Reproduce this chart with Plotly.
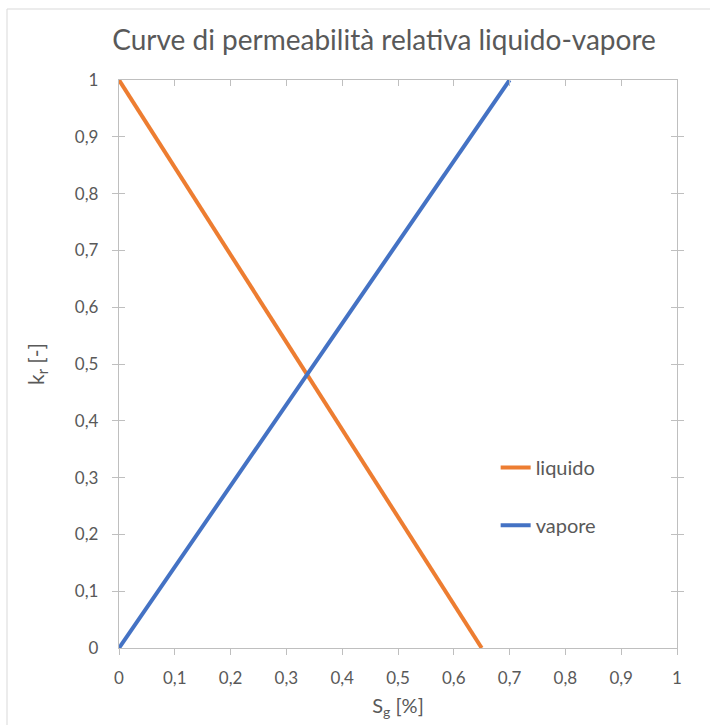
import plotly.graph_objects as go

# Relative permeability curves (linear), S_g vs k_r
sg_liquido = [0.0, 0.65]
kr_liquido = [1.0, 0.0]
sg_vapore = [0.0, 0.7]
kr_vapore = [0.0, 1.0]

tick_vals = [0, 0.1, 0.2, 0.3, 0.4, 0.5, 0.6, 0.7, 0.8, 0.9, 1]
tick_text = ["0", "0,1", "0,2", "0,3", "0,4", "0,5", "0,6", "0,7", "0,8", "0,9", "1"]

FONT = "Lato, 'Open Sans', sans-serif"
GRAY_TXT = "#595959"
AXIS_GRAY = "#BFBFBF"

fig = go.Figure()
fig.add_trace(go.Scatter(x=sg_liquido, y=kr_liquido, mode="lines", name="liquido",
                         line=dict(color="#ED7D31", width=4), legend="legend"))
fig.add_trace(go.Scatter(x=sg_vapore, y=kr_vapore, mode="lines", name="vapore",
                         line=dict(color="#4472C4", width=4), legend="legend2"))
# invisible trace to carry the top axis
fig.add_trace(go.Scatter(x=[0, 1], y=[0, 1], mode="lines", xaxis="x2", yaxis="y",
                         line=dict(width=0), showlegend=False, hoverinfo="skip"))

axis_common = dict(range=[0, 1], tickvals=tick_vals, ticktext=tick_text,
                   showgrid=False, zeroline=False, showline=True,
                   linecolor=AXIS_GRAY, linewidth=1.3, tickcolor=AXIS_GRAY,
                   ticklen=6, tickwidth=1.3,
                   tickfont=dict(family=FONT, size=17, color=GRAY_TXT))

fig.update_layout(
    width=710, height=725,
    margin=dict(l=119, r=33, t=80, b=77),
    paper_bgcolor="white", plot_bgcolor="white",
    font=dict(family=FONT, color=GRAY_TXT),
    title=dict(text="Curve di permeabilità relativa liquido-vapore",
               x=384 / 710, xanchor="center", y=1 - 40 / 725, yanchor="middle",
               font=dict(family=FONT, size=28, color=GRAY_TXT)),
    xaxis=dict(**axis_common, ticks="outside", mirror=True, ticklabelstandoff=8,
               title=dict(text="S<sub>g</sub> [%]", standoff=12,
                          font=dict(family=FONT, size=20, color=GRAY_TXT))),
    xaxis2=dict(range=[0, 1], overlaying="x", side="top", tickvals=tick_vals,
                showticklabels=False, ticks="inside", ticklen=6, tickwidth=1.3,
                tickcolor=AXIS_GRAY, showgrid=False, zeroline=False, showline=False),
    yaxis=dict(**axis_common, ticks="inside", mirror="allticks", ticklabelstandoff=16,
               title=dict(text="k<sub>r</sub> [-]", standoff=24,
                          font=dict(family=FONT, size=21, color=GRAY_TXT))),
    legend=dict(x=0.675, y=0.318, xanchor="left", yanchor="middle",
                bgcolor="rgba(0,0,0,0)", font=dict(family=FONT, size=20, color=GRAY_TXT)),
    legend2=dict(x=0.675, y=0.216, xanchor="left", yanchor="middle",
                 bgcolor="rgba(0,0,0,0)", font=dict(family=FONT, size=20, color=GRAY_TXT)),
    shapes=[dict(type="rect", xref="paper", yref="paper",
                 x0=(7 - 119) / 558, x1=1.2, y0=-0.3, y1=(648 - 9) / 568,
                 line=dict(color="#D9D9D9", width=1), fillcolor="rgba(0,0,0,0)",
                 layer="below")],
)

fig.write_html("out.html")
